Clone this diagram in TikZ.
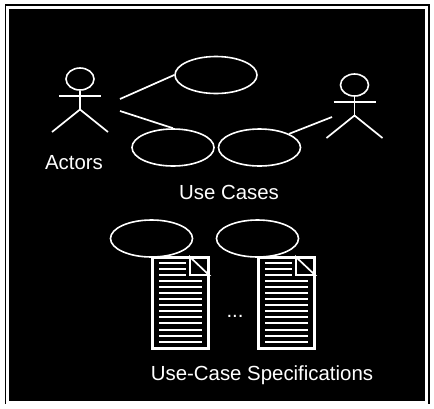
\documentclass[tikz,border=0pt]{standalone}
\usepackage{fontspec}
\setmainfont{Liberation Sans}
\usepackage{xcolor}
\usetikzlibrary{shapes.geometric,positioning,calc}

\begin{document}
\begin{tikzpicture}[
  x=1pt, y=-1pt,
  usecase/.style={ellipse, draw=white, line width=1.6pt, minimum width=82pt, minimum height=37pt, inner sep=0pt},
  head/.style={ellipse, draw=white, line width=1.6pt, minimum width=28pt, minimum height=22pt, inner sep=0pt},
  limb/.style={draw=white, line width=1.7pt},
  conn/.style={draw=white, line width=1.7pt},
  sheet/.style={rectangle, draw=white, line width=2.4pt, minimum width=56pt, minimum height=91pt, inner sep=0pt},
  textline/.style={draw=white, line width=1.6pt},
  caption/.style={text=white, inner sep=0pt, font=\fontsize{20.4}{23}\selectfont}
]
\useasboundingbox (0,0) rectangle (434,408);
% frame
\fill[white] (0,0) rectangle (434,408);
\fill[black] (5,4) rectangle (430,404);
\fill[white] (6,6) rectangle (428,404);
\fill[black] (9,9) rectangle (425,401);

% actors
\foreach \n/\ax/\ay in {A/80/79, B/354.5/85} {
  \node[head] (head\n) at (\ax,\ay) {};
  \coordinate (hip\n) at (\ax,\ay+30.5);
  \draw[limb] (head\n.south) -- (hip\n);
  \draw[limb] (\ax-21,\ay+17) -- (\ax+21,\ay+17);
  \draw[limb] (\ax-28,\ay+53) -- (hip\n) -- (\ax+28,\ay+53);
}
\node[caption] (actors) at (74,163) {Actors};

% use cases
\node[usecase] (ucA) at (216,75) {};
\node[usecase] (ucB) at (173,147.5) {};
\node[usecase] (ucC) at (259.5,147.5) {};
\node[caption] (cases) at (229,192) {Use Cases};

\coordinate (armA) at (120,99);
\coordinate (armB) at (120,111);
\coordinate (armC) at (332,117);
\draw[conn] (armA) -- (ucA.west);
\draw[conn] (armB) -- (ucB.north);
\draw[conn] (armC) -- (ucC.north east);

% specifications
\foreach \n/\dx in {D/0, E/106} {
  \node[usecase] (uc\n) at (151.5+\dx,238.5) {};
  \node[sheet] (doc\n) at (180.5+\dx,303) {};
  \draw[limb] (190+\dx,257) -- (190+\dx,275) -- (209+\dx,275) -- cycle;
  \foreach \ly in {263,269,275}
    \draw[textline] (159+\dx,\ly) -- (186+\dx,\ly);
  \foreach \ly in {281,287,293,299,305,311,317,323,330,336,342}
    \draw[textline] (159+\dx,\ly) -- (202+\dx,\ly);
}
\node[caption] (dots) at (235,316) {...};
\node[caption] (specs) at (262,375) {Use-Case Specifications};
\end{tikzpicture}
\end{document}
